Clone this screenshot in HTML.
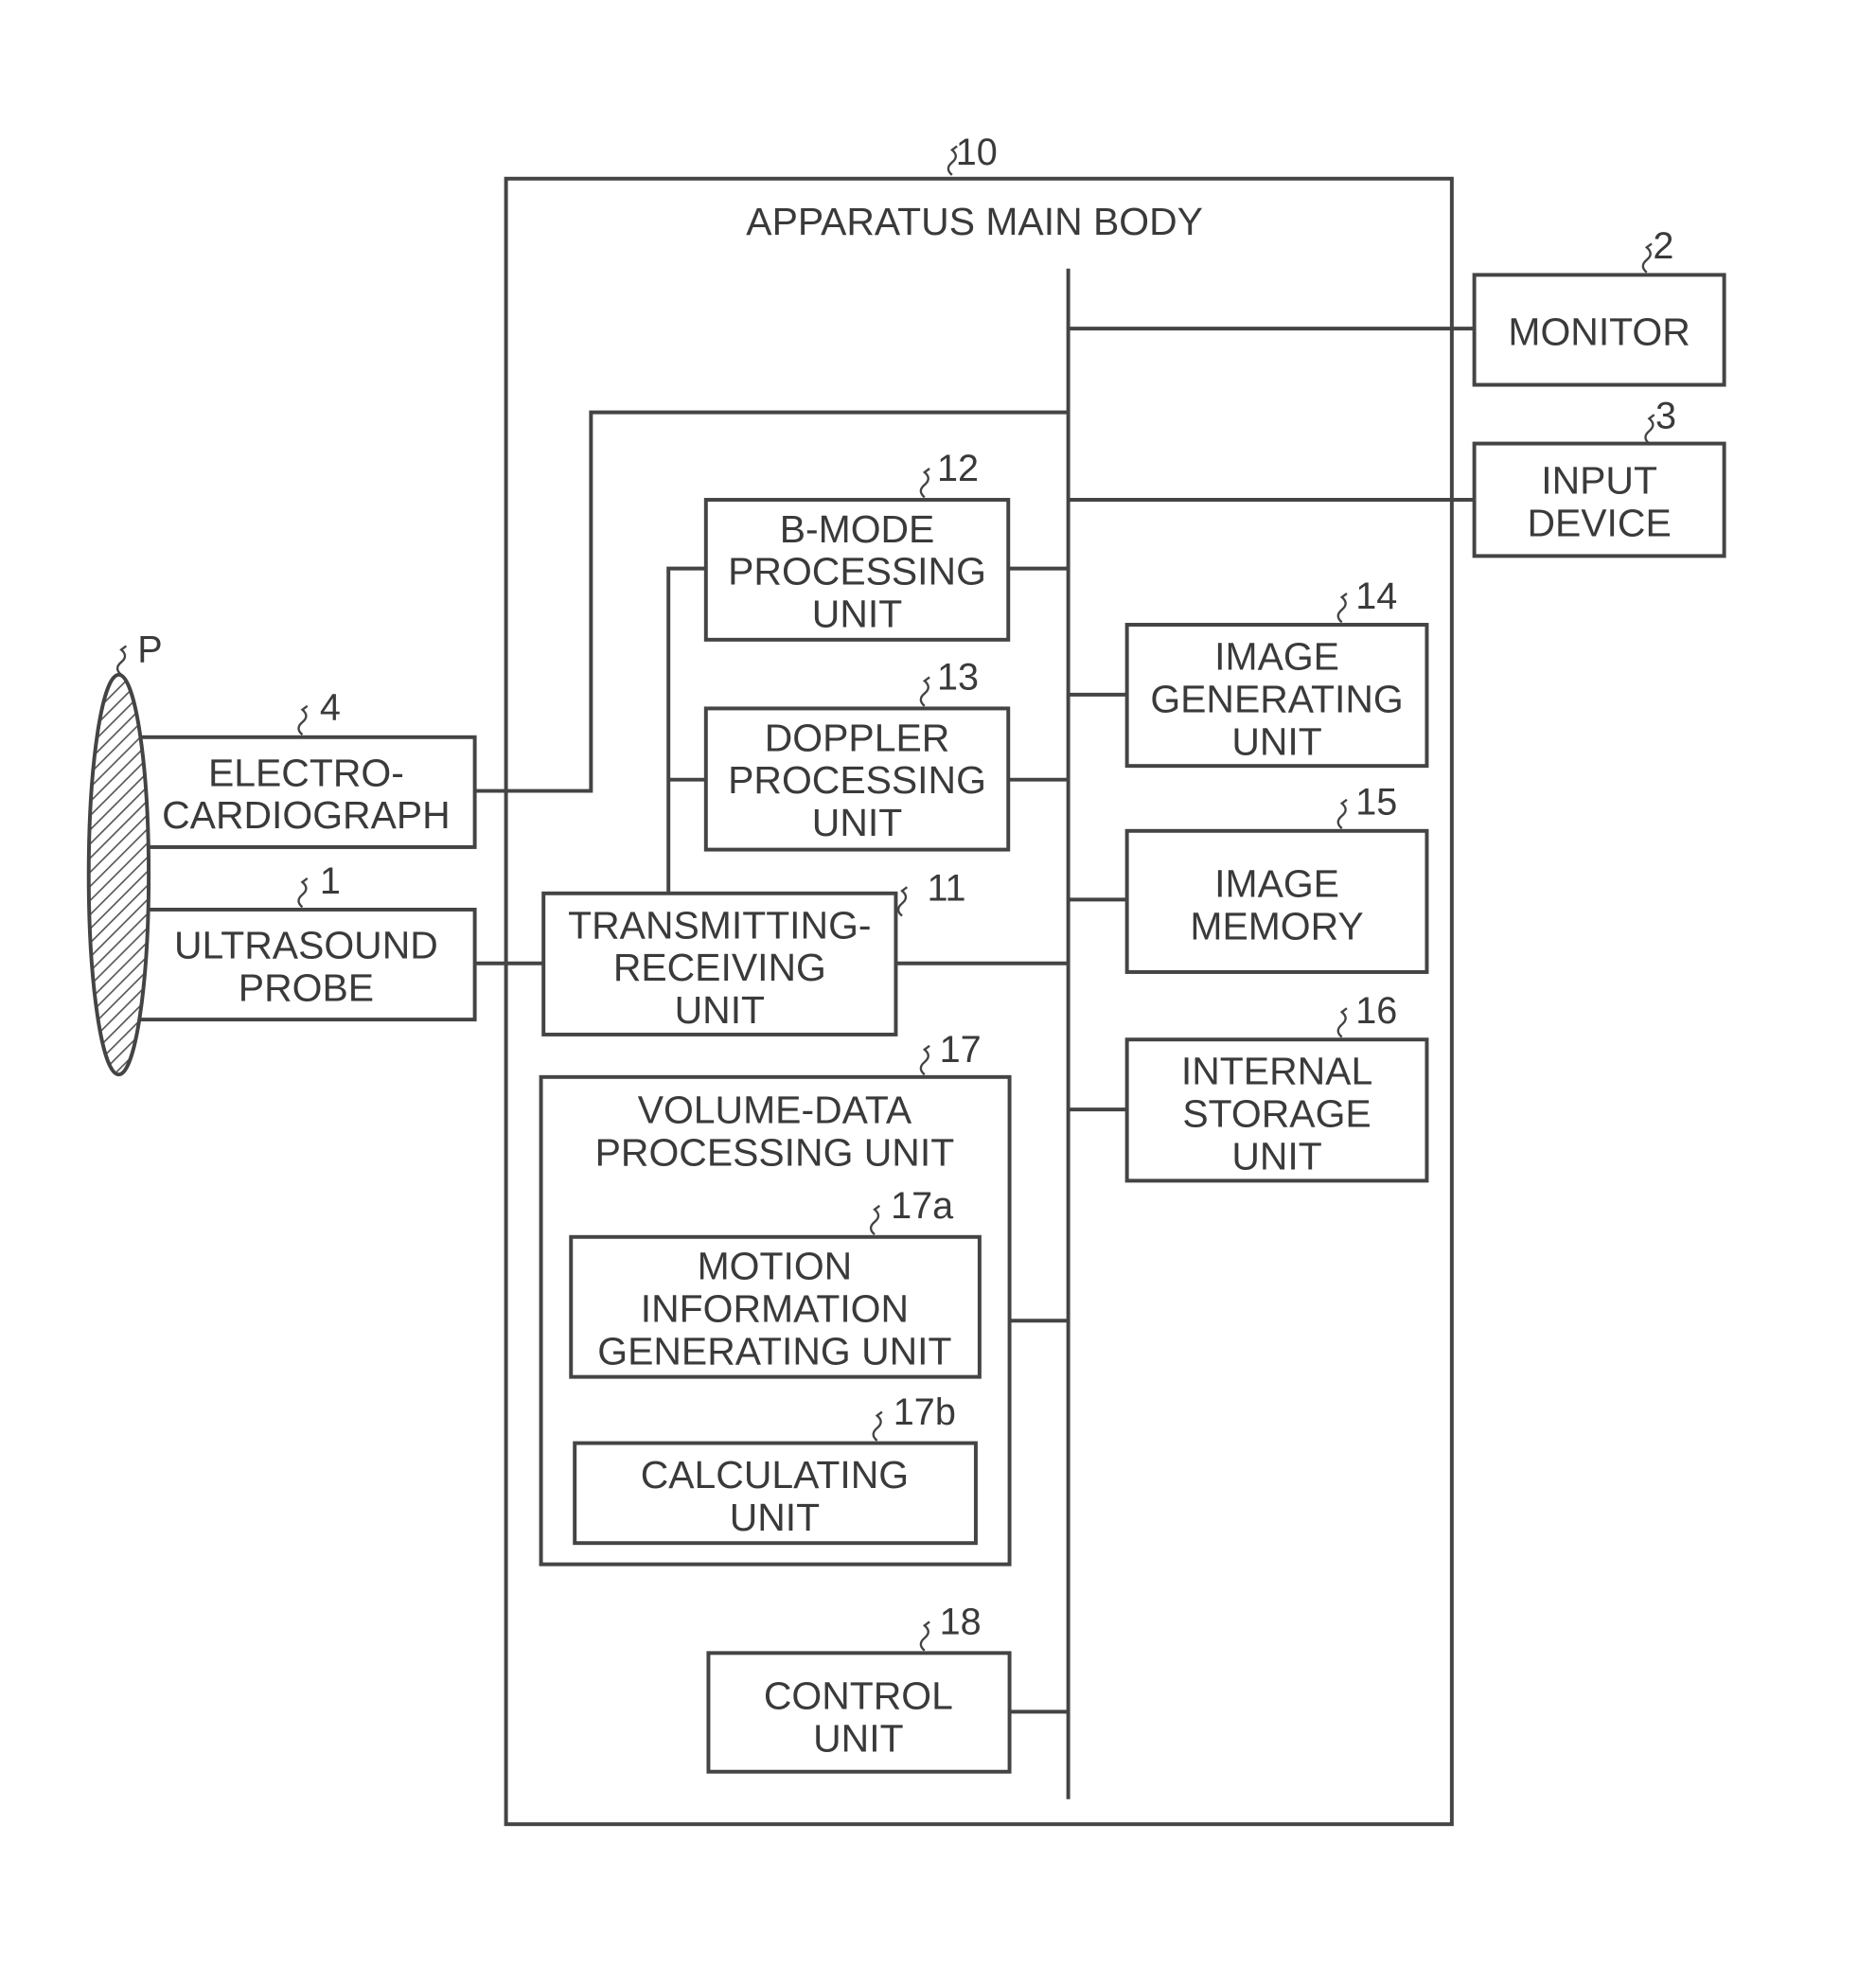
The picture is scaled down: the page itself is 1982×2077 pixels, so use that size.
<!DOCTYPE html>
<html><head><meta charset="utf-8"><style>
html,body{margin:0;padding:0;background:#fff}
svg{display:block}
text{font-family:"Liberation Sans",sans-serif;fill:#3a3a3a;font-size:31px;text-anchor:middle}
.n{font-size:30px;text-anchor:start}
</style></head><body>
<svg width="1982" height="2077" viewBox="0 0 1501.5 1573.5" xmlns="http://www.w3.org/2000/svg">
<defs><pattern id="h" width="8" height="8" patternUnits="userSpaceOnUse" patternTransform="rotate(45)"><rect width="8" height="8" fill="#fff"/><line x1="0" y1="0" x2="0" y2="8" stroke="#555" stroke-width="2.5"/></pattern></defs>
<g fill="none" stroke="#444" stroke-width="3">
<rect x="405" y="143" width="757" height="1317"/>
<line x1="855" y1="215" x2="855" y2="1440"/>
<rect x="1180" y="220" width="200" height="88"/>
<line x1="855" y1="263" x2="1180" y2="263"/>
<rect x="1180" y="355" width="200" height="90"/>
<line x1="855" y1="400" x2="1180" y2="400"/>
<polyline points="380,633 473,633 473,330 855,330"/>
<rect x="565" y="400" width="242" height="112"/>
<line x1="807" y1="455" x2="855" y2="455"/>
<rect x="565" y="567" width="242" height="113"/>
<line x1="807" y1="624" x2="855" y2="624"/>
<polyline points="565,455 535,455 535,715"/>
<line x1="535" y1="624" x2="565" y2="624"/>
<rect x="435" y="715" width="282" height="113"/>
<line x1="717" y1="771" x2="855" y2="771"/>
<line x1="380" y1="771" x2="435" y2="771"/>
<rect x="902" y="500" width="240" height="113"/>
<line x1="855" y1="556" x2="902" y2="556"/>
<rect x="902" y="665" width="240" height="113"/>
<line x1="855" y1="720" x2="902" y2="720"/>
<rect x="902" y="832" width="240" height="113"/>
<line x1="855" y1="888" x2="902" y2="888"/>
<rect x="433" y="862" width="375" height="390"/>
<line x1="808" y1="1057" x2="855" y2="1057"/>
<rect x="457" y="990" width="327" height="112"/>
<rect x="460" y="1155" width="321" height="80"/>
<rect x="567" y="1323" width="241" height="95"/>
<line x1="808" y1="1370" x2="855" y2="1370"/>
<rect x="110" y="590" width="270" height="88"/>
<rect x="110" y="728" width="270" height="88"/>
<ellipse cx="95" cy="700" rx="24" ry="160" fill="url(#h)"/>
</g>
<g fill="none" stroke="#444" stroke-width="1.8">
<path d="M762,140 q-6,-5 0,-10 q6,-5 0,-10 l4,-3"/>
<path d="M1318,218 q-6,-5 0,-10 q6,-5 0,-10 l4,-3"/>
<path d="M1320,355 q-6,-5 0,-10 q6,-5 0,-10 l4,-3"/>
<path d="M740,398 q-6,-5 0,-10 q6,-5 0,-10 l4,-3"/>
<path d="M740,565 q-6,-5 0,-10 q6,-5 0,-10 l4,-3"/>
<path d="M722,733 q-6,-5 0,-10 q6,-5 0,-10 l4,-3"/>
<path d="M1074,498 q-6,-5 0,-10 q6,-5 0,-10 l4,-3"/>
<path d="M1074,663 q-6,-5 0,-10 q6,-5 0,-10 l4,-3"/>
<path d="M1074,830 q-6,-5 0,-10 q6,-5 0,-10 l4,-3"/>
<path d="M740,860 q-6,-5 0,-10 q6,-5 0,-10 l4,-3"/>
<path d="M700,988 q-6,-5 0,-10 q6,-5 0,-10 l4,-3"/>
<path d="M702,1153 q-6,-5 0,-10 q6,-5 0,-10 l4,-3"/>
<path d="M740,1321 q-6,-5 0,-10 q6,-5 0,-10 l4,-3"/>
<path d="M242,588 q-6,-5 0,-10 q6,-5 0,-10 l4,-3"/>
<path d="M242,726 q-6,-5 0,-10 q6,-5 0,-10 l4,-3"/>
<path d="M97,540 q-6,-5 0,-10 q6,-5 0,-10 l4,-3"/>
</g>
<text class="n" x="765" y="132">10</text>
<text x="780" y="188">APPARATUS MAIN BODY</text>
<text class="n" x="1323" y="207">2</text>
<text class="n" x="1325" y="343">3</text>
<text class="n" x="750" y="385">12</text>
<text class="n" x="750" y="552">13</text>
<text class="n" x="742" y="721">11</text>
<text class="n" x="1085" y="487">14</text>
<text class="n" x="1085" y="652">15</text>
<text class="n" x="1085" y="819">16</text>
<text class="n" x="752" y="850">17</text>
<text class="n" x="713" y="975">17a</text>
<text class="n" x="715" y="1140">17b</text>
<text class="n" x="752" y="1308">18</text>
<text class="n" x="256" y="576">4</text>
<text class="n" x="256" y="715">1</text>
<text class="n" x="110" y="530">P</text>
<text x="1280" y="276">MONITOR</text>
<text x="1280" y="395">INPUT</text><text x="1280" y="429">DEVICE</text>
<text x="686" y="434">B-MODE</text><text x="686" y="468">PROCESSING</text><text x="686" y="502">UNIT</text>
<text x="686" y="601">DOPPLER</text><text x="686" y="635">PROCESSING</text><text x="686" y="669">UNIT</text>
<text x="576" y="751">TRANSMITTING-</text><text x="576" y="785">RECEIVING</text><text x="576" y="819">UNIT</text>
<text x="1022" y="536">IMAGE</text><text x="1022" y="570">GENERATING</text><text x="1022" y="604">UNIT</text>
<text x="1022" y="718">IMAGE</text><text x="1022" y="752">MEMORY</text>
<text x="1022" y="868">INTERNAL</text><text x="1022" y="902">STORAGE</text><text x="1022" y="936">UNIT</text>
<text x="620" y="899">VOLUME-DATA</text><text x="620" y="933">PROCESSING UNIT</text>
<text x="620" y="1024">MOTION</text><text x="620" y="1058">INFORMATION</text><text x="620" y="1092">GENERATING UNIT</text>
<text x="620" y="1191">CALCULATING</text><text x="620" y="1225">UNIT</text>
<text x="687" y="1368">CONTROL</text><text x="687" y="1402">UNIT</text>
<text x="245" y="629">ELECTRO-</text><text x="245" y="663">CARDIOGRAPH</text>
<text x="245" y="767">ULTRASOUND</text><text x="245" y="801">PROBE</text>
</svg>
</body></html>
